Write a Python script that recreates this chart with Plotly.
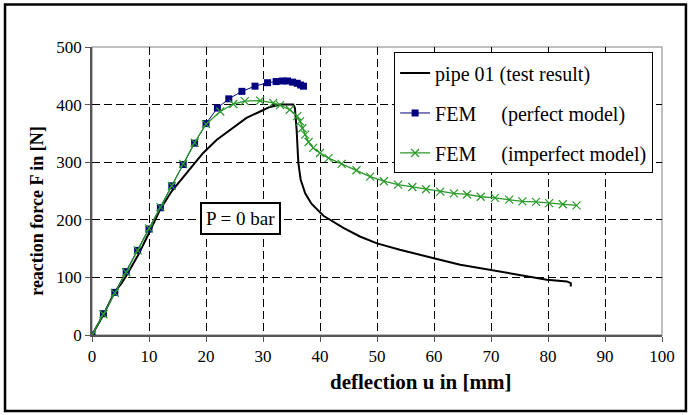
import plotly.graph_objects as go

# --- data ---
test_x = [0, 2, 4, 5.2, 6.1, 8.1, 10, 11.9, 14, 16.6, 19.5, 21.9, 24.2, 27.1, 29.5, 31.2, 33, 35.3,
          35.6, 35.9, 36.2, 36.6, 37.4, 38.5, 40.6, 44.1, 47, 50, 54, 57.5, 60.5, 64.6, 69.8, 74.5,
          79.8, 83.3, 84, 84]
test_y = [0, 35, 75, 90, 104, 139, 177, 217, 250, 281, 316, 339, 356, 377, 388, 396, 400, 400,
          394, 356, 299, 270, 246, 228, 207, 186, 171, 159, 148, 140, 132, 122, 113, 104,
          96, 93, 90, 84]

perf_x = [0, 2, 4, 6, 8, 10, 12, 14, 16, 18, 20, 22, 24, 26.3, 28.6, 30.8, 32.3, 33.4, 34.3,
          35.2, 36, 36.6, 37.1]
perf_y = [0, 37, 74, 110, 147, 184, 221, 259, 296, 333, 367, 394, 410, 423, 432, 438, 440, 441,
          441, 439, 437, 434, 432]

imp_x = [0, 2, 4, 6, 8, 10, 12, 14, 16, 18, 20, 22.5, 24.8, 26.8, 29.5, 31.8, 33, 34.7, 36, 36.5,
         36.9, 37.4, 38, 38.8, 40, 41.5, 43.8, 46.4, 48.8, 51.2, 53.7, 56.2, 58.6, 61.1, 63.5, 65.8,
         68.2, 70.7, 73.2, 75.5, 77.9, 80.2, 82.6, 85]
imp_y = [0, 36, 73, 109, 147, 185, 222, 259, 297, 334, 366, 388, 401, 406, 407, 403, 399, 391, 380,
         371, 359, 348, 335, 325, 316, 307, 297, 286, 275, 267, 261, 257, 253, 249, 246, 244,
         240, 238, 235, 232, 231, 229, 227, 225]

x_ticks = [0, 10, 20, 30, 40, 50, 60, 70, 80, 90, 100]
y_ticks = [0, 100, 200, 300, 400, 500]

FONT = "Liberation Serif"
NB = "\u00a0"

fig = go.Figure()
fig.add_trace(go.Scatter(x=test_x, y=test_y, mode="lines", name="pipe 01 (test result)",
                         line=dict(color="black", width=2), legendgroup="a"))
fig.add_trace(go.Scatter(x=perf_x, y=perf_y, mode="lines+markers",
                         name="FEM" + NB * 5 + "(perfect model)",
                         line=dict(color="#000080", width=1),
                         marker=dict(symbol="square", size=7, color="#000080"), legendgroup="b"))
fig.add_trace(go.Scatter(x=imp_x, y=imp_y, mode="lines+markers",
                         name="FEM" + NB * 5 + "(imperfect model)",
                         line=dict(color="#2a9a2a", width=1.3),
                         marker=dict(symbol="x-thin", size=8, color="#2a9a2a",
                                     line=dict(color="#2a9a2a", width=1.2)), legendgroup="c"))

axis_common = dict(showgrid=True, gridcolor="black", gridwidth=1, griddash="8px,4px",
                   zeroline=False, showline=True, linecolor="#555555", linewidth=1.5,
                   ticks="outside", ticklen=5, tickcolor="#555555",
                   tickfont=dict(family=FONT, size=17, color="black"))

fig.update_xaxes(range=[0, 100], tickvals=x_ticks, **axis_common)
fig.update_yaxes(range=[0, 500], tickvals=y_ticks, **axis_common)

fig.update_layout(
    width=692, height=415,
    margin=dict(l=92, r=30, t=47, b=80),
    paper_bgcolor="white", plot_bgcolor="white",
    font=dict(family=FONT, color="black"),
    showlegend=True,
    legend=dict(x=0.53, y=0.981, xanchor="left", yanchor="top",
                bgcolor="white", bordercolor="black", borderwidth=1,
                font=dict(family=FONT, size=20, color="black"),
                tracegroupgap=11, itemwidth=30),
    shapes=[
        dict(type="rect", xref="paper", yref="paper", x0=0, x1=1, y0=0, y1=1,
             line=dict(color="#aaaaaa", width=1.5), layer="below"),
        dict(type="rect", xref="paper", yref="paper", x0=-0.1526, x1=1.042, y0=-0.2643, y1=1.1478,
             line=dict(color="black", width=2.5)),
    ],
    annotations=[
        dict(x=26, y=202, xref="x", yref="y", text="P = 0 bar", showarrow=False,
             font=dict(family=FONT, size=19, color="black"),
             bgcolor="white", bordercolor="black", borderwidth=2, borderpad=4),
        dict(x=(420 - 92) / 570, y=(335 - 396) / 287.5, xref="paper", yref="paper",
             text="<b>deflection u in [mm]</b>", showarrow=False,
             font=dict(family=FONT, size=21, color="black")),
        dict(x=(25 - 92) / 570, y=(335 - 211) / 287.5, xref="paper", yref="paper",
             text="<b>reaction force F in [N]</b>", showarrow=False, textangle=-90,
             font=dict(family=FONT, size=18, color="black")),
    ],
)

fig.write_html("out.html")
